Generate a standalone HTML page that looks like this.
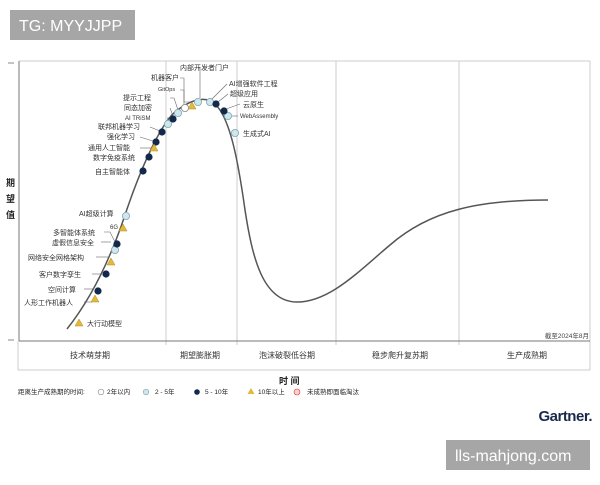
<!DOCTYPE html><html><head><meta charset="utf-8"><style>
body{margin:0;width:600px;height:480px;background:#fff;overflow:hidden;font-family:"Liberation Sans","Noto Sans CJK SC",sans-serif}
</style></head><body>
<svg width="600" height="480" xmlns="http://www.w3.org/2000/svg" font-family="Liberation Sans, Noto Sans CJK SC, sans-serif">
<rect x="10" y="10" width="125" height="30" fill="#a6a6a6"/>
<text x="19" y="31" font-size="16" fill="#fff">TG: MYYJJPP</text>
<g stroke="#ccc" stroke-width="1">
<line x1="19" y1="61" x2="590" y2="61"/>
<line x1="590" y1="61" x2="590" y2="370"/>
<line x1="166" y1="61" x2="166" y2="345"/>
<line x1="237" y1="61" x2="237" y2="345"/>
<line x1="336" y1="61" x2="336" y2="345"/>
<line x1="459" y1="61" x2="459" y2="345"/>
<line x1="18" y1="370" x2="590" y2="370"/>
<line x1="18" y1="341" x2="18" y2="370"/>
</g>
<line x1="19" y1="61" x2="19" y2="341" stroke="#777"/>
<line x1="19" y1="341" x2="590" y2="341" stroke="#777"/>
<line x1="8" y1="63" x2="14" y2="63" stroke="#888"/>
<line x1="8" y1="340" x2="14" y2="340" stroke="#888"/>
<g font-size="9" font-weight="bold" fill="#222"><text x="6" y="186">期</text><text x="6" y="202">望</text><text x="6" y="218">值</text><text x="279" y="384">时 间</text></g>
<text x="589" y="338" font-size="6.5" fill="#444" text-anchor="end">截至2024年8月</text>
<g font-size="8" fill="#333" text-anchor="middle">
<text x="90" y="358">技术萌芽期</text><text x="200" y="358">期望膨胀期</text><text x="287" y="358">泡沫破裂低谷期</text><text x="400" y="358">稳步爬升复苏期</text><text x="527" y="358">生产成熟期</text></g>
<path d="M67,329 C90,300 110,260 125,215 C140,170 160,125 175,112 C190,100 205,95 215,104 C230,118 238,160 245,210 C252,255 262,302 297,302 C330,302 360,270 390,245 C430,210 480,200 548,200" fill="none" stroke="#555" stroke-width="1.5"/>
<g stroke="#666" stroke-width="0.6" fill="none">
<path d="M180,78 h4 v28"/><path d="M180,90 h4 v12 h6"/><path d="M170,98 h4 l4,12"/><path d="M170,108 l3,8"/><path d="M167,118 h2"/>
<path d="M198,68 h2 v30"/><path d="M227,84 l-15,15"/><path d="M228,94 l-10,8"/><path d="M240,104 l-14,5"/><path d="M238,116 h-6"/>
<path d="M150,127 l10,4"/><path d="M140,137 l13,4"/><path d="M140,148 h11"/><path d="M104,232 h6 l5,10"/><path d="M101,242 h10"/><path d="M96,257 h12"/><path d="M92,274 h10"/><path d="M84,289 h10"/><path d="M84,302 h8"/>
</g>
<g font-size="7" fill="#333">
<text x="180" y="70">内部开发者门户</text><text x="151" y="80">机器客户</text><text x="158" y="91" font-size="5.5">GitOps</text>
<text x="123" y="100">提示工程</text><text x="124" y="110">同态加密</text><text x="125" y="120" font-size="6">AI TRiSM</text>
<text x="98" y="129">联邦机器学习</text><text x="107" y="139">强化学习</text><text x="88" y="150">通用人工智能</text>
<text x="93" y="160">数字免疫系统</text><text x="95" y="174">自主智能体</text>
<text x="229" y="86">AI增强软件工程</text><text x="230" y="96">超级应用</text><text x="243" y="107">云原生</text><text x="240" y="118" font-size="6">WebAssembly</text><text x="243" y="136">生成式AI</text>
<text x="79" y="216">AI超级计算</text><text x="110" y="229" font-size="6">6G</text><text x="53" y="235">多智能体系统</text><text x="52" y="245">虚假信息安全</text>
<text x="28" y="260">网络安全网格架构</text><text x="39" y="277">客户数字孪生</text><text x="48" y="292">空间计算</text><text x="24" y="305">人形工作机器人</text><text x="87" y="326">大行动模型</text>
</g>
<g fill="#cfe6ec" stroke="#7fa7b5" stroke-width="0.8">
<circle cx="198" cy="102" r="3.6"/><circle cx="178" cy="113" r="3.6"/><circle cx="168" cy="124" r="3.6"/><circle cx="210" cy="102" r="3.6"/><circle cx="228" cy="116" r="3.6"/><circle cx="235" cy="133" r="3.6"/><circle cx="126" cy="216" r="3.6"/><circle cx="115" cy="250" r="3.6"/></g>
<circle cx="185" cy="108" r="3.6" fill="#fff" stroke="#888" stroke-width="0.8"/>
<g fill="#13294b"><circle cx="173" cy="119" r="3.6"/><circle cx="162" cy="132" r="3.6"/><circle cx="156" cy="142" r="3.6"/><circle cx="149" cy="157" r="3.6"/><circle cx="143" cy="171" r="3.6"/><circle cx="216" cy="104" r="3.6"/><circle cx="224" cy="111" r="3.6"/><circle cx="117" cy="244" r="3.6"/><circle cx="106" cy="274" r="3.6"/><circle cx="98" cy="291" r="3.6"/></g>
<g fill="#e2b93b" stroke="#b08a1a" stroke-width="0.5">
<path d="M192,102 l4,7 h-8z"/><path d="M154,144 l4,7 h-8z"/><path d="M123,224 l4,7 h-8z"/><path d="M111,258 l4,7 h-8z"/><path d="M95,295 l4,7 h-8z"/><path d="M79,319 l4,7 h-8z"/></g>
<g font-size="6.5" fill="#222">
<text x="18" y="394">距离生产成熟期的时间:</text>
<circle cx="101" cy="392" r="2.8" fill="#fff" stroke="#888" stroke-width="0.6"/><text x="107" y="394">2年以内</text>
<circle cx="146" cy="392" r="2.8" fill="#cfe6ec" stroke="#7fa7b5" stroke-width="0.6"/><text x="155" y="394">2 - 5年</text>
<circle cx="197" cy="392" r="2.8" fill="#13294b"/><text x="205" y="394">5 - 10年</text>
<path d="M251,388 l3.5,6 h-7z" fill="#e2b93b"/><text x="258" y="394">10年以上</text>
<circle cx="297" cy="392" r="3" fill="#f6d0d0" stroke="#d33" stroke-width="0.6"/><text x="307" y="394">未成熟即面临淘汰</text>
</g>
<text x="592" y="421" font-size="15" font-weight="bold" fill="#1a2b4a" text-anchor="end" letter-spacing="-0.5">Gartner.</text>
<rect x="446" y="440" width="144" height="30" fill="#a6a6a6"/>
<text x="455" y="461" font-size="16" fill="#fff">lls-mahjong.com</text>
</svg></body></html>
